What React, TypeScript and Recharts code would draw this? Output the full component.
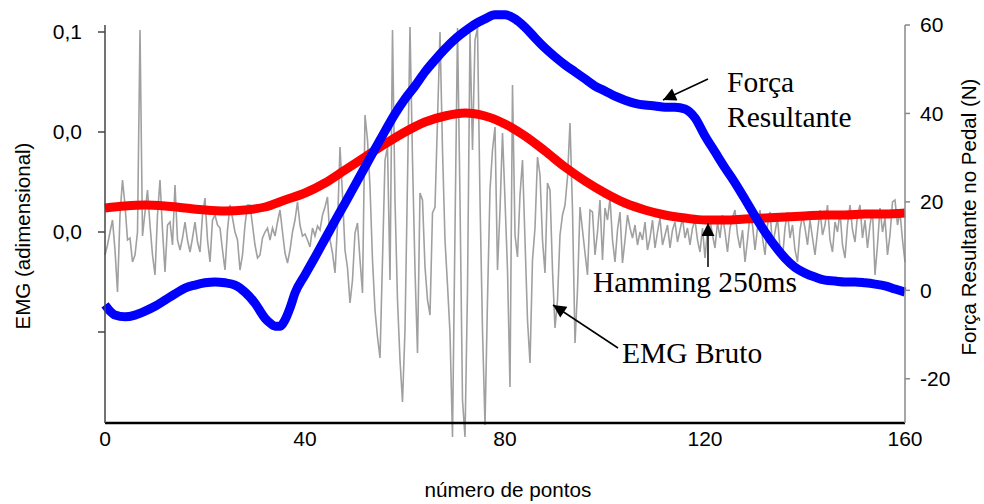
import React from 'react';
import { LineChart, Line, XAxis, YAxis } from 'recharts';

// x axis: "número de pontos"
const xTicks = [0, 40, 80, 120, 160];

// right axis: Força Resultante no Pedal (N)
const forceTicks = [-20, 0, 20, 40, 60];
const forceX = [0, 1, 2, 4, 6, 8, 10, 12, 14, 16, 18, 20, 22, 24, 26, 28, 30, 32, 33, 34, 35, 36, 37, 38,
  40, 42, 44, 46, 48, 50, 52, 54, 56, 58, 60, 62, 64, 66, 68, 70, 72, 74, 76, 78, 80, 82, 84, 86, 88, 90,
  92, 94, 96, 98, 100, 102, 104, 106, 108, 110, 112, 114, 116, 118, 120, 122, 124, 126, 128, 130, 132,
  134, 136, 138, 140, 142, 144, 146, 148, 150, 152, 154, 156, 158, 160];
const forceN = [-3.3, -4.7, -5.6, -6.0, -5.6, -4.7, -3.6, -2.2, -0.8, 0.5, 1.2, 1.7, 1.9, 1.7, 1.2, -0.4, -2.9, -6.3, -7.4, -8.1, -8.1, -6.7, -4.0, -0.6,
  3.5, 7.5, 11.6, 15.7, 19.7, 23.8, 27.9, 32.0, 36.0, 39.9, 43.3, 46.2, 49.4, 52.1, 54.6, 56.8, 58.6, 60.2, 61.4, 62.3, 62.3, 61.4, 59.5, 57.1, 54.8, 52.8,
  51.0, 49.4, 47.8, 46.2, 45.1, 43.9, 43.0, 42.3, 41.9, 41.7, 41.4, 41.4, 41.0, 39.0, 34.9, 31.3, 27.7, 24.3, 20.6, 16.8, 13.2,
  10.0, 7.3, 5.2, 3.9, 3.0, 2.3, 2.1, 1.9, 1.9, 1.7, 1.4, 1.0, 0.3, -0.4];

// left axis: EMG (adimensional)
const emgTicks = [0.1, 0.05, 0, -0.05];
const emgTickLabels = ['0,1', '0,0', '0,0', ''];

// Hamming 250ms envelope, sampled every 4 points
const hammingX = [0, 4, 8, 12, 16, 20, 24, 28, 32, 36, 40, 44, 48, 52, 56, 60, 64, 68, 72, 76, 80,
  84, 88, 92, 96, 100, 104, 108, 112, 116, 120, 124, 128, 132, 136, 140, 144, 148, 152, 156, 160];
const hammingV = [0.012, 0.013, 0.0135, 0.013, 0.012, 0.011, 0.0105, 0.011, 0.0125, 0.016, 0.0195, 0.0245, 0.031, 0.0375, 0.044, 0.05, 0.055, 0.058, 0.0595, 0.058, 0.054,
  0.048, 0.0405, 0.0325, 0.0255, 0.0195, 0.0145, 0.011, 0.0085, 0.007, 0.006, 0.006, 0.0065, 0.007, 0.0075, 0.008, 0.0085, 0.0085, 0.009, 0.009, 0.0095];

// EMG Bruto, one sample every half point (0 .. 160)
const emgStep = 0.5;
const emgRaw = [
  -0.0115, -0.0065, 0, 0.006, -0.009, -0.03, 0.0085, 0.026, 0.0135, -0.004,
  -0.003, -0.015, -0.0115, 0, 0.101, -0.002, 0.01, 0.021, 0.0035, -0.0115,
  -0.0215, 0.0085, 0.026, 0.001, -0.02, 0.0035, 0.005, -0.0065, 0.0235, -0.004,
  -0.009, -0.003, 0.005, -0.004, -0.01, -0.003, 0.005, -0.005, -0.01, 0.0085,
  0.017, -0.004, -0.015, 0.006, 0.0085, 0.0035, 0.002, -0.009, -0.019, 0.001,
  0.0135, 0.007, 0, -0.004, -0.019, -0.0115, 0.0035, 0.0135, 0.0135, 0.0035,
  -0.0065, -0.013, -0.0115, -0.003,
  0, 0.002, -0.004, 0.002, -0.002, 0.005, 0.011, 0, -0.0105, -0.0155,
  -0.009, 0, 0.006, 0.015, 0.0035, -0.002, -0.001, -0.004, -0.0075, 0.002,
  -0.002, 0.003, 0.001, 0.0085, 0.0125, 0.0175, -0.004, -0.0105, -0.0205, 0.0035,
  0.0425, 0.0185, -0.009, -0.018, -0.0355, -0.024, -0.0005, 0.0045, -0.014, -0.0305,
  0.0585, 0.046, 0.0225, -0.014, -0.039, -0.0525, -0.063, -0.014, 0.036, 0.0425,
  -0.024, 0.101, 0.016, -0.034, -0.064, -0.085, -0.049, 0.026, 0.1025, 0.036,
  -0.019, -0.0605, 0.0195, 0.016,
  -0.0175, -0.034, -0.0415, 0.0095, 0.0125, 0.056, 0.1, 0.041, -0.004, -0.0265,
  -0.0505, -0.1025, 0.001, 0.102, 0.016, -0.084, -0.1025, -0.029, 0.0995, 0.041,
  0.096, 0.102, 0.016, -0.049, -0.0965, -0.034, 0.021, 0.041, 0.0525, -0.019,
  0.011, 0.0495, 0.016, -0.019, -0.0775, 0.0735, -0.0015, -0.0125, 0.0185, 0.036,
  -0.004, -0.044, -0.0655, -0.014, 0.002, 0.0375, 0.0285, -0.004, -0.0205, 0.0245,
  0.021, -0.019, -0.048, -0.034, -0.0015, 0.0085, 0.0135, 0.0275, 0.0545, 0.011,
  -0.0555, -0.029, 0.0125, 0.001,
  -0.0105, -0.0215, 0.011, 0.01, -0.0115, 0, 0.016, -0.014, 0.012, 0.006,
  0.017, -0.004, -0.015, 0.001, 0.01, -0.0155, -0.004, 0.0085, 0.002, -0.003,
  0.0035, -0.0065, 0, -0.004, 0.005, -0.009, -0.003, 0.006, -0.008, 0,
  0.007, -0.0065, -0.0015, 0.0035, -0.008, 0.001, 0.005, -0.005, 0.001, 0.007,
  -0.003, 0.002, -0.0065, 0.002, 0.006, -0.004, -0.01, 0.002, -0.013, 0.001,
  0.006, -0.0015, -0.008, 0.005, -0.003, 0.0085, 0, -0.01, 0.002, 0.007,
  0.011, -0.0015, -0.008, 0.001,
  -0.015, -0.004, 0.0085, 0.0035, -0.009, 0.002, 0.011, -0.003, -0.0115, 0.0035,
  0.01, -0.0065, 0, 0.007, -0.008, -0.013, 0.002, 0.01, -0.003, 0.0035,
  -0.009, -0.015, 0.001, 0.0085, 0.002, -0.0065, 0.006, -0.003, -0.0115, 0,
  0.011, -0.0015, 0.0035, 0.0135, -0.004, -0.01, 0.005, 0, 0.01, -0.0065,
  -0.013, 0.0035, 0.0135, 0.001, -0.005, 0.0085, 0.0135, -0.003, 0.006, -0.008,
  0.0035, 0.011, -0.0215, -0.0065, 0.012, 0, 0.007, -0.0115, -0.0015, 0.015,
  0.016, 0.0035, 0.01, -0.004, -0.015,
];

const forceData = forceX.map((x, i) => ({ x, force: forceN[i] }));
const hammingData = hammingX.map((x, i) => ({ x, hamming: hammingV[i] }));
const emgData = emgRaw.map((v, i) => ({ x: i * emgStep, emg: v }));

const SANS = '"Liberation Sans", Arial, Helvetica, sans-serif';
const SERIF = '"Liberation Serif", "Times New Roman", Times, serif';

const tickStyle = { fontSize: 21, fill: '#000', fontFamily: SANS };

const LeftTitle = (props: any) => {
  const vb = props.viewBox || {};
  const cx = vb.x + 22;
  const cy = vb.y + vb.height / 2 + 12;
  return (
    <text x={cx} y={cy} transform={`rotate(-90, ${cx}, ${cy})`} textAnchor="middle" dominantBaseline="central"
      style={{ fontSize: 20.5, fontFamily: SANS, fill: '#000' }}>
      EMG (adimensional)
    </text>
  );
};

const RightTitle = (props: any) => {
  const vb = props.viewBox || {};
  const cx = vb.x + 63;
  const cy = vb.y + vb.height / 2 - 7;
  return (
    <text x={cx} y={cy} transform={`rotate(-90, ${cx}, ${cy})`} textAnchor="middle" dominantBaseline="central"
      style={{ fontSize: 20.5, fontFamily: SANS, fill: '#000' }}>
      Força Resultante no Pedal (N)
    </text>
  );
};

const BottomTitle = (props: any) => {
  const vb = props.viewBox || {};
  return (
    <text x={vb.x + vb.width / 2 + 3} y={vb.y + 74} textAnchor="middle"
      style={{ fontSize: 20.7, fontFamily: SANS, fill: '#000' }}>
      número de pontos
    </text>
  );
};

export default function App() {
  return (
    <div style={{ position: 'absolute', left: 0, top: 0, width: 984, height: 504, background: '#fff' }}>
      <style>{'.recharts-surface [clip-path]{clip-path:none !important;} .recharts-line, .recharts-line *{clip-path:none !important;}'}</style>
      <LineChart width={984} height={504} margin={{ top: 25, right: 0, left: 0, bottom: 0 }}>
        <XAxis
          type="number"
          dataKey="x"
          domain={[0, 160]}
          ticks={xTicks}
          allowDataOverflow
          height={81}
          tickLine={false}
          tickSize={6}
          tickMargin={2}
          axisLine={{ stroke: '#000', strokeWidth: 2.5 }}
          tick={tickStyle}
          label={{ content: BottomTitle }}
        />
        <YAxis
          yAxisId="emg"
          orientation="left"
          width={105}
          domain={[-0.0955, 0.1035]}
          allowDataOverflow
          ticks={emgTicks}
          tickFormatter={(v: number) => {
            const i = emgTicks.indexOf(v);
            return i >= 0 ? emgTickLabels[i] : '';
          }}
          tickSize={7}
          tickMargin={16}
          axisLine={{ stroke: '#444', strokeWidth: 1.5 }}
          tickLine={{ stroke: '#444', strokeWidth: 1.5 }}
          tick={tickStyle}
          label={{ content: LeftTitle }}
        />
        <YAxis
          yAxisId="force"
          orientation="right"
          width={79}
          domain={[-30, 60]}
          allowDataOverflow
          ticks={forceTicks}
          tickSize={5}
          tickMargin={10}
          axisLine={{ stroke: '#888', strokeWidth: 1.5 }}
          tickLine={{ stroke: '#888', strokeWidth: 1.5 }}
          tick={tickStyle}
          label={{ content: RightTitle }}
        />
        <Line
          data={emgData}
          yAxisId="emg"
          dataKey="emg"
          type="linear"
          stroke="#a0a0a0"
          strokeWidth={1.6}
          dot={false}
          activeDot={false}
          isAnimationActive={false}
        />
        <Line
          data={hammingData}
          yAxisId="emg"
          dataKey="hamming"
          type="monotone"
          stroke="#ff0000"
          strokeWidth={9}
          dot={false}
          activeDot={false}
          isAnimationActive={false}
        />
        <Line
          data={forceData}
          yAxisId="force"
          dataKey="force"
          type="monotone"
          stroke="#0000ff"
          strokeWidth={9}
          dot={false}
          activeDot={false}
          isAnimationActive={false}
        />
      </LineChart>
      <svg width={984} height={504} style={{ position: 'absolute', left: 0, top: 0, pointerEvents: 'none' }}>
        <defs>
          <marker id="arrowHead" viewBox="0 0 10 10" refX="10" refY="5" markerUnits="userSpaceOnUse"
            markerWidth="16" markerHeight="13" orient="auto">
            <path d="M0,0 L10,5 L0,10 z" fill="#000" />
          </marker>
        </defs>
        <g style={{ fontFamily: SERIF, fontSize: 29.5, fill: '#000' }}>
          <text x={727} y={92}>Força</text>
          <text x={727} y={127}>Resultante</text>
          <text x={593} y={292}>Hamming 250ms</text>
          <text x={622} y={363}>EMG Bruto</text>
        </g>
        <line x1={708} y1={79} x2={663} y2={100} stroke="#000" strokeWidth={1.5} markerEnd="url(#arrowHead)" />
        <line x1={708} y1={267} x2={708} y2={223} stroke="#000" strokeWidth={1.5} markerEnd="url(#arrowHead)" />
        <line x1={618} y1={348} x2={553} y2={305} stroke="#000" strokeWidth={1.5} markerEnd="url(#arrowHead)" />
      </svg>
    </div>
  );
}
